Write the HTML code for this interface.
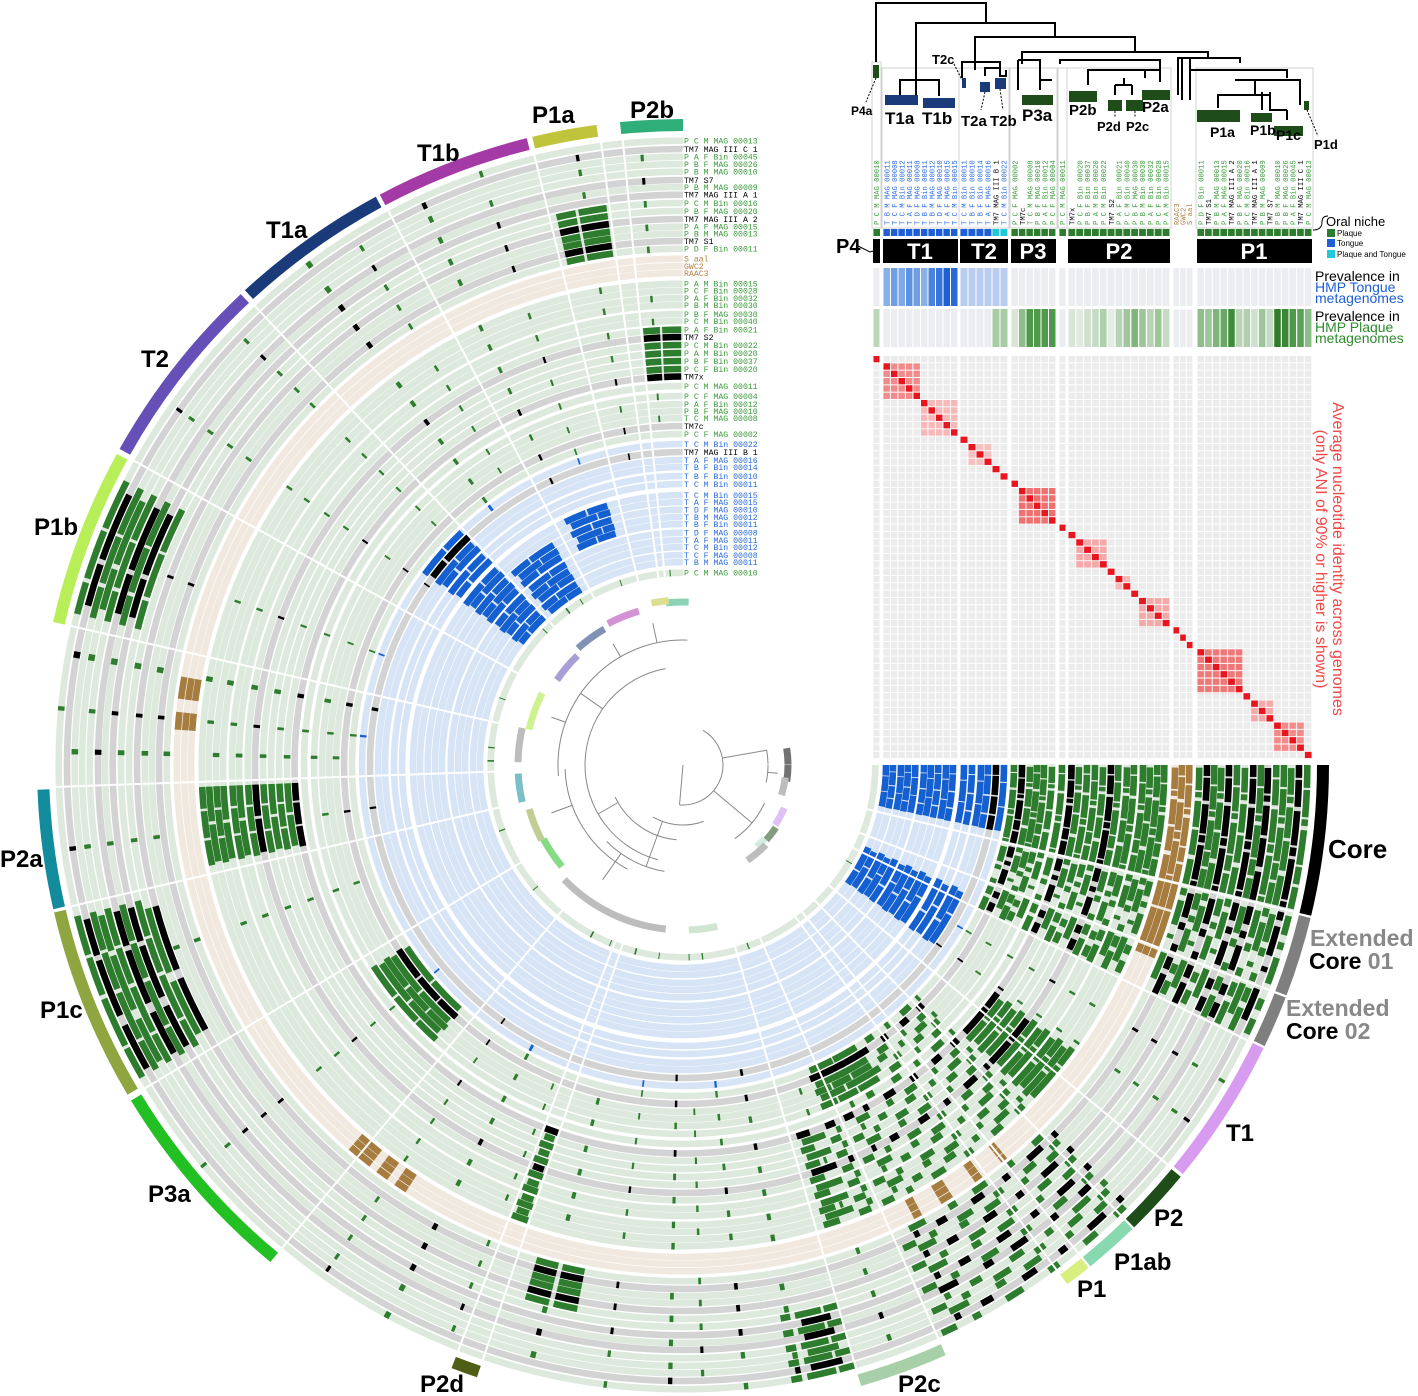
<!DOCTYPE html>
<html><head><meta charset="utf-8">
<style>
html,body{margin:0;padding:0;background:#fff;}
svg{display:block;}
.lab{font-family:"Liberation Sans",sans-serif;font-weight:bold;fill:#000;}
.mono{font-family:"Liberation Mono",monospace;}
#R circle{fill:none;stroke-width:6.6;}
.bp{stroke:#dde9dc}.bt{stroke:#d3d3d3}.bs{stroke:#f1e9df}.bb{stroke:#d6e4f6}
.bp,.bt,.bs,.bb{stroke-dasharray:270 90}
.g{stroke:#2e7d2e}.k{stroke:#000}.n{stroke:#a67c3f}.u{stroke:#1560d0}
.CA{stroke-dasharray:2.1 0.2 2.5 0.2 0.6 0.4 3.2 0.2 1.6 0.3 2 400}
.CB{stroke-dasharray:1.2 0.2 2.5 0.4 3.2 0.2 0.8 0.3 3.8 0.2 0.5 400}
.CC{stroke-dasharray:0 0.3 2.5 0.2 0.6 0.4 2.9 0.3 2.8 0.5 2.8 400}
.BC{stroke-dasharray:3 0.2 4.2 0.2 4.2 400}
.BC2{stroke-dasharray:1.8 0.2 3.5 0.3 3.2 0.3 2.6 400}
.EA{stroke-dasharray:0 14 1.8 0.7 0.7 0.8 2.5 1.5 1.1 0.9 1.5 400}
.EB{stroke-dasharray:0 13.8 0.8 0.6 2.8 1.1 0.5 1.7 3.1 400}
.EC{stroke-dasharray:0 14.2 2.7 0.6 0.8 1.7 0.8 0.7 1.4 0.6 2.3 400}
.ET{stroke-dasharray:0 13.5 3 0.3 4.2 0.3 1 400}
.MA{stroke-dasharray:0 45 1.2 2.3 1.5 3 1.1 2.9 1.8 2.7 0.8 1.7 1.5 400}
.MB{stroke-dasharray:0 44.5 0.6 1.7 2 2.7 0.8 2.7 1.5 3.3 1.2 2.2 0.6 400}
.MC{stroke-dasharray:0 46 1.3 2.9 0.8 3 1.8 2.2 1 3 2 400}
.SA{stroke-dasharray:0 30.2 .3 53.5 .4 12.6 .3 20.7 .5 21.5 .3 44.7 .4 14.6 .3 32.7 .5 17.5 .3 400}
.SB{stroke-dasharray:0 35 .3 43.7 .5 11.5 .4 33.6 .3 46.7 .4 17.6 .6 24.4 .3 29.7 .4 14.6 .3 400}
.SC{stroke-dasharray:0 70 .4 17.6 .3 15.7 .5 7.5 .3 47.7 .4 20.6 .5 42.5 .3 13.7 .3 27.7 .3 400}
.PO{stroke-dasharray:0 74 1.5 .3 2.7 .5 1 70 3 .3 4.7 .4 3.6 .3 3.7 28 3 .4 4.6 .3 4.7 400}
.PO2{stroke-dasharray:0 75 3 72.5 4.5 1 5.5 .5 3.5 29.5 4 .5 6.5 400}
.PI{stroke-dasharray:0 101 2.5 .5 2.5 44.5 6 1 7 400}
.PI2{stroke-dasharray:0 101 2.5 .5 2.5 400}
.PA{stroke-dasharray:0 257 2 .3 2.9 400}
.TB{stroke-dasharray:0 50.5 .8 2.7 1 3 1.5 2.5 1 60 1.5 1 1.5 1 3 53 2 1.5 2.5 400}
.QA{stroke-dasharray:0 36 2.5 .3 4.7 23.5 1.5 2.5 2 35.8 2 57.2 3 .3 3.2 .3 2.6 400}
.QB{stroke-dasharray:0 36.5 3.5 .4 3.6 22.5 .7 1.8 3.5 36.5 1.5 57.8 4.5 .4 4.2 400}
.QB2{stroke-dasharray:0 264.8 2.2 .3 2.5 400}
.RA{stroke-dasharray:0 58 3.5 .3 3.2 .3 2.7 64 4 .3 4.7 .4 5.6 400}
.RB{stroke-dasharray:0 58.5 4.5 .4 4.1 65 6.5 .4 7.2 400}
.U1{stroke-dasharray:0 24.5 4.5 .4 6.1 400}
.U1b{stroke-dasharray:0 24 7 .5 4.3 400}
.U2{stroke-dasharray:0 216.5 5.5 .4 4.1 400}
.U2b{stroke-dasharray:0 217 3.5 .5 5.8 400}
.U3{stroke-dasharray:0 228.3 4.7 .4 6.2 400}
.U3b{stroke-dasharray:0 229 6 .3 4.5 400}
.U4{stroke-dasharray:0 244.2 4.8 .4 4.4 400}
.U4b{stroke-dasharray:0 245 6 .3 2.7 400}
#SEP line{stroke:#fff;stroke-width:2}
#OB circle{fill:none;stroke-width:12}
#TR circle,#TR line{fill:none}
</style></head>
<body>
<svg xmlns="http://www.w3.org/2000/svg" width="1418" height="1396" viewBox="0 0 1418 1396">
<defs>
<pattern id="gP4" patternUnits="userSpaceOnUse" x="873" y="356" width="7" height="7.33"><rect x="0.4" width="6" height="6.33" fill="#ebebeb"/></pattern>
<pattern id="gT1" patternUnits="userSpaceOnUse" x="883" y="356" width="7.5" height="7.33"><rect x="0.4" width="6.5" height="6.33" fill="#ebebeb"/></pattern>
<pattern id="gT2" patternUnits="userSpaceOnUse" x="960" y="356" width="8" height="7.33"><rect x="0.4" width="7" height="6.33" fill="#ebebeb"/></pattern>
<pattern id="gP3" patternUnits="userSpaceOnUse" x="1011" y="356" width="7.5" height="7.33"><rect x="0.4" width="6.5" height="6.33" fill="#ebebeb"/></pattern>
<pattern id="gS" patternUnits="userSpaceOnUse" x="1059" y="356" width="7" height="7.33"><rect x="0.4" width="6" height="6.33" fill="#ebebeb"/></pattern>
<pattern id="gP2" patternUnits="userSpaceOnUse" x="1068" y="356" width="7.846" height="7.33"><rect x="0.4" width="6.85" height="6.33" fill="#ebebeb"/></pattern>
<pattern id="gN" patternUnits="userSpaceOnUse" x="1173" y="356" width="6.667" height="7.33"><rect x="0.4" width="5.67" height="6.33" fill="#ebebeb"/></pattern>
<pattern id="gP1" patternUnits="userSpaceOnUse" x="1197" y="356" width="7.667" height="7.33"><rect x="0.4" width="6.67" height="6.33" fill="#ebebeb"/></pattern>
<pattern id="tP4" patternUnits="userSpaceOnUse" x="873" y="268" width="7" height="41"><rect x="0.4" width="6" height="38" fill="#ebedf0"/></pattern>
<pattern id="tT1" patternUnits="userSpaceOnUse" x="883" y="268" width="7.5" height="41"><rect x="0.4" width="6.5" height="38" fill="#ebedf0"/></pattern>
<pattern id="tT2" patternUnits="userSpaceOnUse" x="960" y="268" width="8" height="41"><rect x="0.4" width="7" height="38" fill="#ebedf0"/></pattern>
<pattern id="tP3" patternUnits="userSpaceOnUse" x="1011" y="268" width="7.5" height="41"><rect x="0.4" width="6.5" height="38" fill="#ebedf0"/></pattern>
<pattern id="tS" patternUnits="userSpaceOnUse" x="1059" y="268" width="7" height="41"><rect x="0.4" width="6" height="38" fill="#ebedf0"/></pattern>
<pattern id="tP2" patternUnits="userSpaceOnUse" x="1068" y="268" width="7.846" height="41"><rect x="0.4" width="6.85" height="38" fill="#ebedf0"/></pattern>
<pattern id="tN" patternUnits="userSpaceOnUse" x="1173" y="268" width="6.667" height="41"><rect x="0.4" width="5.67" height="38" fill="#ebedf0"/></pattern>
<pattern id="tP1" patternUnits="userSpaceOnUse" x="1197" y="268" width="7.667" height="41"><rect x="0.4" width="6.67" height="38" fill="#ebedf0"/></pattern>
<pattern id="pT1a" patternUnits="userSpaceOnUse" x="883" y="356" width="7.5" height="7.33"><rect x="0.4" width="6.5" height="6.33" fill="#f28a8a"/></pattern>
<pattern id="pT1b" patternUnits="userSpaceOnUse" x="883" y="356" width="7.5" height="7.33"><rect x="0.4" width="6.5" height="6.33" fill="#f7b8b8"/></pattern>
<pattern id="pT2" patternUnits="userSpaceOnUse" x="960" y="356" width="8" height="7.33"><rect x="0.4" width="7" height="6.33" fill="#f7c0c0"/></pattern>
<pattern id="pP3" patternUnits="userSpaceOnUse" x="1011" y="356" width="7.5" height="7.33"><rect x="0.4" width="6.5" height="6.33" fill="#ee7070"/></pattern>
<pattern id="pP2a" patternUnits="userSpaceOnUse" x="1068" y="356" width="7.846" height="7.33"><rect x="0.4" width="6.85" height="6.33" fill="#f5a8a8"/></pattern>
<pattern id="pP2b" patternUnits="userSpaceOnUse" x="1068" y="356" width="7.846" height="7.33"><rect x="0.4" width="6.85" height="6.33" fill="#f7b8b8"/></pattern>
<pattern id="pP1a" patternUnits="userSpaceOnUse" x="1197" y="356" width="7.667" height="7.33"><rect x="0.4" width="6.67" height="6.33" fill="#ee7878"/></pattern>
<pattern id="pP1b" patternUnits="userSpaceOnUse" x="1197" y="356" width="7.667" height="7.33"><rect x="0.4" width="6.67" height="6.33" fill="#f5a8a8"/></pattern>
<pattern id="pP1c" patternUnits="userSpaceOnUse" x="1197" y="356" width="7.667" height="7.33"><rect x="0.4" width="6.67" height="6.33" fill="#f28a8a"/></pattern>
</defs>
<rect width="1418" height="1396" fill="#fff"/>

<g id="R" transform="translate(683,765)">
<circle r="624.3" class="bp" pathLength="360"/><circle r="624.3" class="g CA" pathLength="360"/><circle r="624.3" class="g EA" pathLength="360"/><circle r="624.3" class="g MA" pathLength="360"/><circle r="624.3" class="g PO" pathLength="360"/><circle r="624.3" class="g SA" pathLength="360"/>
<circle r="616" class="bt" pathLength="360"/><circle r="616" class="k CB" pathLength="360"/><circle r="616" class="k EB" pathLength="360"/><circle r="616" class="k MB" pathLength="360"/><circle r="616" class="k PO2" pathLength="360"/><circle r="616" class="k SB" pathLength="360"/>
<circle r="608.3" class="bp" pathLength="360"/><circle r="608.3" class="g CC" pathLength="360"/><circle r="608.3" class="g EC" pathLength="360"/><circle r="608.3" class="g MC" pathLength="360"/><circle r="608.3" class="g PO" pathLength="360"/><circle r="608.3" class="g SC" pathLength="360"/>
<circle r="601" class="bp" pathLength="360"/><circle r="601" class="g CA" pathLength="360"/><circle r="601" class="g EB" pathLength="360"/><circle r="601" class="g MA" pathLength="360"/><circle r="601" class="g PO2" pathLength="360"/><circle r="601" class="g SB" pathLength="360"/>
<circle r="593.3" class="bp" pathLength="360"/><circle r="593.3" class="g CB" pathLength="360"/><circle r="593.3" class="g EC" pathLength="360"/><circle r="593.3" class="g MB" pathLength="360"/><circle r="593.3" class="g PO" pathLength="360"/><circle r="593.3" class="g SA" pathLength="360"/>
<circle r="585" class="bt" pathLength="360"/><circle r="585" class="k CC" pathLength="360"/><circle r="585" class="k EA" pathLength="360"/><circle r="585" class="k MC" pathLength="360"/><circle r="585" class="k PO2" pathLength="360"/><circle r="585" class="k SC" pathLength="360"/>
<circle r="578" class="bp" pathLength="360"/><circle r="578" class="g CA" pathLength="360"/><circle r="578" class="g EC" pathLength="360"/><circle r="578" class="g MA" pathLength="360"/><circle r="578" class="g PO" pathLength="360"/><circle r="578" class="g SB" pathLength="360"/>
<circle r="570.3" class="bt" pathLength="360"/><circle r="570.3" class="k CB" pathLength="360"/><circle r="570.3" class="k EA" pathLength="360"/><circle r="570.3" class="k MB" pathLength="360"/><circle r="570.3" class="k PO2" pathLength="360"/><circle r="570.3" class="k SA" pathLength="360"/>
<circle r="562" class="bp" pathLength="360"/><circle r="562" class="g CC" pathLength="360"/><circle r="562" class="g EB" pathLength="360"/><circle r="562" class="g MC" pathLength="360"/><circle r="562" class="g PO" pathLength="360"/><circle r="562" class="g PA" pathLength="360"/><circle r="562" class="g SC" pathLength="360"/>
<circle r="554" class="bp" pathLength="360"/><circle r="554" class="g CA" pathLength="360"/><circle r="554" class="g EA" pathLength="360"/><circle r="554" class="g MA" pathLength="360"/><circle r="554" class="g PI" pathLength="360"/><circle r="554" class="g PA" pathLength="360"/><circle r="554" class="g SB" pathLength="360"/>
<circle r="546" class="bt" pathLength="360"/><circle r="546" class="k CB" pathLength="360"/><circle r="546" class="k EC" pathLength="360"/><circle r="546" class="k MB" pathLength="360"/><circle r="546" class="k PI" pathLength="360"/><circle r="546" class="k PA" pathLength="360"/><circle r="546" class="k SA" pathLength="360"/>
<circle r="538.3" class="bp" pathLength="360"/><circle r="538.3" class="g CC" pathLength="360"/><circle r="538.3" class="g EB" pathLength="360"/><circle r="538.3" class="g MC" pathLength="360"/><circle r="538.3" class="g PI2" pathLength="360"/><circle r="538.3" class="g PA" pathLength="360"/><circle r="538.3" class="g SC" pathLength="360"/>
<circle r="531.3" class="bp" pathLength="360"/><circle r="531.3" class="g CA" pathLength="360"/><circle r="531.3" class="g EA" pathLength="360"/><circle r="531.3" class="g MA" pathLength="360"/><circle r="531.3" class="g PI2" pathLength="360"/><circle r="531.3" class="g PA" pathLength="360"/><circle r="531.3" class="g SB" pathLength="360"/>
<circle r="524" class="bt" pathLength="360"/><circle r="524" class="k CB" pathLength="360"/><circle r="524" class="k EC" pathLength="360"/><circle r="524" class="k MB" pathLength="360"/><circle r="524" class="k PI2" pathLength="360"/><circle r="524" class="k PA" pathLength="360"/><circle r="524" class="k SA" pathLength="360"/>
<circle r="516.3" class="bp" pathLength="360"/><circle r="516.3" class="g CC" pathLength="360"/><circle r="516.3" class="g EB" pathLength="360"/><circle r="516.3" class="g MC" pathLength="360"/><circle r="516.3" class="g PI2" pathLength="360"/><circle r="516.3" class="g PA" pathLength="360"/><circle r="516.3" class="g SC" pathLength="360"/>
<circle r="506.3" class="bs" pathLength="360"/><circle r="506.3" class="n CA" pathLength="360"/><circle r="506.3" class="n ET" pathLength="360"/><circle r="506.3" class="n TB" pathLength="360"/>
<circle r="499" class="bs" pathLength="360"/><circle r="499" class="n CB" pathLength="360"/><circle r="499" class="n ET" pathLength="360"/><circle r="499" class="n TB" pathLength="360"/>
<circle r="492" class="bs" pathLength="360"/><circle r="492" class="n CC" pathLength="360"/><circle r="492" class="n ET" pathLength="360"/><circle r="492" class="n TB" pathLength="360"/>
<circle r="481.3" class="bp" pathLength="360"/><circle r="481.3" class="g CA" pathLength="360"/><circle r="481.3" class="g EA" pathLength="360"/><circle r="481.3" class="g MA" pathLength="360"/><circle r="481.3" class="g QA" pathLength="360"/><circle r="481.3" class="g SB" pathLength="360"/>
<circle r="474.3" class="bp" pathLength="360"/><circle r="474.3" class="g CB" pathLength="360"/><circle r="474.3" class="g EB" pathLength="360"/><circle r="474.3" class="g MB" pathLength="360"/><circle r="474.3" class="g QB" pathLength="360"/><circle r="474.3" class="g SA" pathLength="360"/>
<circle r="467" class="bp" pathLength="360"/><circle r="467" class="g CC" pathLength="360"/><circle r="467" class="g EC" pathLength="360"/><circle r="467" class="g MC" pathLength="360"/><circle r="467" class="g QA" pathLength="360"/><circle r="467" class="g SC" pathLength="360"/>
<circle r="460" class="bp" pathLength="360"/><circle r="460" class="g CA" pathLength="360"/><circle r="460" class="g EB" pathLength="360"/><circle r="460" class="g MA" pathLength="360"/><circle r="460" class="g QB" pathLength="360"/><circle r="460" class="g SB" pathLength="360"/>
<circle r="451" class="bp" pathLength="360"/><circle r="451" class="g CB" pathLength="360"/><circle r="451" class="g EC" pathLength="360"/><circle r="451" class="g MB" pathLength="360"/><circle r="451" class="g QA" pathLength="360"/><circle r="451" class="g SA" pathLength="360"/>
<circle r="444" class="bp" pathLength="360"/><circle r="444" class="g CC" pathLength="360"/><circle r="444" class="g EA" pathLength="360"/><circle r="444" class="g MC" pathLength="360"/><circle r="444" class="g QB" pathLength="360"/><circle r="444" class="g SC" pathLength="360"/>
<circle r="435.3" class="bp" pathLength="360"/><circle r="435.3" class="g CA" pathLength="360"/><circle r="435.3" class="g EC" pathLength="360"/><circle r="435.3" class="g MA" pathLength="360"/><circle r="435.3" class="g QA" pathLength="360"/><circle r="435.3" class="g QB2" pathLength="360"/><circle r="435.3" class="g SB" pathLength="360"/>
<circle r="428" class="bt" pathLength="360"/><circle r="428" class="k CB" pathLength="360"/><circle r="428" class="k EA" pathLength="360"/><circle r="428" class="k MB" pathLength="360"/><circle r="428" class="k QB" pathLength="360"/><circle r="428" class="k QB2" pathLength="360"/><circle r="428" class="k SA" pathLength="360"/>
<circle r="420" class="bp" pathLength="360"/><circle r="420" class="g CC" pathLength="360"/><circle r="420" class="g EB" pathLength="360"/><circle r="420" class="g MC" pathLength="360"/><circle r="420" class="g QA" pathLength="360"/><circle r="420" class="g QB2" pathLength="360"/><circle r="420" class="g SC" pathLength="360"/>
<circle r="412" class="bp" pathLength="360"/><circle r="412" class="g CA" pathLength="360"/><circle r="412" class="g EA" pathLength="360"/><circle r="412" class="g MA" pathLength="360"/><circle r="412" class="g QB" pathLength="360"/><circle r="412" class="g QB2" pathLength="360"/><circle r="412" class="g SB" pathLength="360"/>
<circle r="404" class="bp" pathLength="360"/><circle r="404" class="g CB" pathLength="360"/><circle r="404" class="g EC" pathLength="360"/><circle r="404" class="g MB" pathLength="360"/><circle r="404" class="g QA" pathLength="360"/><circle r="404" class="g QB2" pathLength="360"/><circle r="404" class="g SA" pathLength="360"/>
<circle r="396" class="bp" pathLength="360"/><circle r="396" class="g CC" pathLength="360"/><circle r="396" class="g EB" pathLength="360"/><circle r="396" class="g MC" pathLength="360"/><circle r="396" class="g QB" pathLength="360"/><circle r="396" class="g QB2" pathLength="360"/><circle r="396" class="g SC" pathLength="360"/>
<circle r="388.5" class="bt" pathLength="360"/><circle r="388.5" class="k CA" pathLength="360"/><circle r="388.5" class="k EA" pathLength="360"/><circle r="388.5" class="k MA" pathLength="360"/><circle r="388.5" class="k QA" pathLength="360"/><circle r="388.5" class="k QB2" pathLength="360"/><circle r="388.5" class="k SB" pathLength="360"/>
<circle r="379" class="bp" pathLength="360"/><circle r="379" class="g CB" pathLength="360"/><circle r="379" class="g EC" pathLength="360"/><circle r="379" class="g MB" pathLength="360"/><circle r="379" class="g SA" pathLength="360"/>
<circle r="369" class="bp" pathLength="360"/><circle r="369" class="g CC" pathLength="360"/><circle r="369" class="g EB" pathLength="360"/><circle r="369" class="g MC" pathLength="360"/><circle r="369" class="g RA" pathLength="360"/><circle r="369" class="g SC" pathLength="360"/>
<circle r="361" class="bp" pathLength="360"/><circle r="361" class="g CA" pathLength="360"/><circle r="361" class="g EA" pathLength="360"/><circle r="361" class="g MA" pathLength="360"/><circle r="361" class="g RB" pathLength="360"/><circle r="361" class="g SB" pathLength="360"/>
<circle r="354" class="bp" pathLength="360"/><circle r="354" class="g CB" pathLength="360"/><circle r="354" class="g EC" pathLength="360"/><circle r="354" class="g MB" pathLength="360"/><circle r="354" class="g RA" pathLength="360"/><circle r="354" class="g SA" pathLength="360"/>
<circle r="347" class="bp" pathLength="360"/><circle r="347" class="g CC" pathLength="360"/><circle r="347" class="g EB" pathLength="360"/><circle r="347" class="g MC" pathLength="360"/><circle r="347" class="g RB" pathLength="360"/><circle r="347" class="g SC" pathLength="360"/>
<circle r="339" class="bt" pathLength="360"/><circle r="339" class="k CA" pathLength="360"/><circle r="339" class="k EA" pathLength="360"/><circle r="339" class="k MA" pathLength="360"/><circle r="339" class="k RA" pathLength="360"/><circle r="339" class="k SB" pathLength="360"/>
<circle r="331" class="bp" pathLength="360"/><circle r="331" class="g CB" pathLength="360"/><circle r="331" class="g EC" pathLength="360"/><circle r="331" class="g MB" pathLength="360"/><circle r="331" class="g RB" pathLength="360"/><circle r="331" class="g SA" pathLength="360"/>
<circle r="321" class="bb" pathLength="360"/><circle r="321" class="u BC" pathLength="360"/><circle r="321" class="u U2" pathLength="360"/><circle r="321" class="u SA" pathLength="360"/>
<circle r="313" class="bt" pathLength="360"/><circle r="313" class="k BC2" pathLength="360"/><circle r="313" class="k U2b" pathLength="360"/><circle r="313" class="k SB" pathLength="360"/>
<circle r="305" class="bb" pathLength="360"/><circle r="305" class="u BC2" pathLength="360"/><circle r="305" class="u U1" pathLength="360"/><circle r="305" class="u U2" pathLength="360"/>
<circle r="298" class="bb" pathLength="360"/><circle r="298" class="u BC" pathLength="360"/><circle r="298" class="u U1b" pathLength="360"/><circle r="298" class="u U2b" pathLength="360"/>
<circle r="289" class="bb" pathLength="360"/><circle r="289" class="u BC2" pathLength="360"/><circle r="289" class="u U1" pathLength="360"/><circle r="289" class="u U2" pathLength="360"/>
<circle r="281" class="bb" pathLength="360"/><circle r="281" class="u BC" pathLength="360"/><circle r="281" class="u U1b" pathLength="360"/><circle r="281" class="u U2b" pathLength="360"/>
<circle r="270" class="bb" pathLength="360"/><circle r="270" class="u BC2" pathLength="360"/><circle r="270" class="u U1" pathLength="360"/><circle r="270" class="u U2" pathLength="360"/><circle r="270" class="u U4" pathLength="360"/>
<circle r="263" class="bb" pathLength="360"/><circle r="263" class="u BC" pathLength="360"/><circle r="263" class="u U1b" pathLength="360"/><circle r="263" class="u U2b" pathLength="360"/><circle r="263" class="u U4b" pathLength="360"/>
<circle r="255.3" class="bb" pathLength="360"/><circle r="255.3" class="u BC2" pathLength="360"/><circle r="255.3" class="u U1" pathLength="360"/><circle r="255.3" class="u U2" pathLength="360"/><circle r="255.3" class="u U3" pathLength="360"/><circle r="255.3" class="u U4" pathLength="360"/>
<circle r="248" class="bb" pathLength="360"/><circle r="248" class="u BC" pathLength="360"/><circle r="248" class="u U1b" pathLength="360"/><circle r="248" class="u U2b" pathLength="360"/><circle r="248" class="u U3b" pathLength="360"/><circle r="248" class="u U4b" pathLength="360"/>
<circle r="241" class="bb" pathLength="360"/><circle r="241" class="u BC2" pathLength="360"/><circle r="241" class="u U1" pathLength="360"/><circle r="241" class="u U2" pathLength="360"/><circle r="241" class="u U3" pathLength="360"/><circle r="241" class="u U4" pathLength="360"/>
<circle r="232.3" class="bb" pathLength="360"/><circle r="232.3" class="u BC" pathLength="360"/><circle r="232.3" class="u U1b" pathLength="360"/><circle r="232.3" class="u U2b" pathLength="360"/><circle r="232.3" class="u U3b" pathLength="360"/>
<circle r="225" class="bb" pathLength="360"/><circle r="225" class="u BC2" pathLength="360"/><circle r="225" class="u U1" pathLength="360"/><circle r="225" class="u U2" pathLength="360"/><circle r="225" class="u U3" pathLength="360"/>
<circle r="218" class="bb" pathLength="360"/><circle r="218" class="u BC" pathLength="360"/><circle r="218" class="u U1b" pathLength="360"/><circle r="218" class="u U2b" pathLength="360"/><circle r="218" class="u U3b" pathLength="360"/>
<circle r="210" class="bb" pathLength="360"/><circle r="210" class="u BC2" pathLength="360"/><circle r="210" class="u U1" pathLength="360"/><circle r="210" class="u U2" pathLength="360"/><circle r="210" class="u U3" pathLength="360"/>
<circle r="203" class="bb" pathLength="360"/><circle r="203" class="u BC" pathLength="360"/><circle r="203" class="u U1b" pathLength="360"/><circle r="203" class="u U2b" pathLength="360"/><circle r="203" class="u U3b" pathLength="360"/>
<circle r="192.3" class="bp" pathLength="360"/><circle r="192.3" class="g SA" pathLength="360"/><circle r="192.3" class="g SC" pathLength="360"/>
</g>

<g id="SEP" transform="translate(683,765)">
<line x1="186" x2="630" transform="rotate(13.5)"/><line x1="186" x2="630" transform="rotate(21)"/><line x1="186" x2="630" transform="rotate(26)"/>
<line x1="186" x2="630" transform="rotate(39.5)"/><line x1="186" x2="630" transform="rotate(45.8)"/><line x1="186" x2="630" transform="rotate(51)"/>
<line x1="186" x2="630" transform="rotate(53.5)"/><line x1="186" x2="630" transform="rotate(66)"/><line x1="186" x2="630" transform="rotate(74)"/>
<line x1="186" x2="630" transform="rotate(108.6)"/><line x1="186" x2="630" transform="rotate(111)"/><line x1="186" x2="630" transform="rotate(129.7)"/>
<line x1="186" x2="630" transform="rotate(149)"/><line x1="186" x2="630" transform="rotate(167)"/><line x1="186" x2="630" transform="rotate(178)"/>
<line x1="186" x2="630" transform="rotate(192.8)"/><line x1="186" x2="630" transform="rotate(209)"/><line x1="186" x2="630" transform="rotate(227)"/>
<line x1="186" x2="630" transform="rotate(242)"/><line x1="186" x2="630" transform="rotate(256.3)"/><line x1="186" x2="630" transform="rotate(262.5)"/>
<line x1="186" x2="630" transform="rotate(264.5)"/>
</g>

<g id="OB" transform="translate(683,765)">
<circle r="640" pathLength="360" stroke="#000" style="stroke-dasharray:13.5 400"/>
<circle r="640" pathLength="360" stroke="#7f7f7f" style="stroke-dasharray:0 13.7 7.2 400"/>
<circle r="640" pathLength="360" stroke="#7f7f7f" style="stroke-dasharray:0 21.1 4.7 400"/>
<circle r="640" pathLength="360" stroke="#d79cf0" style="stroke-dasharray:0 26 13.3 400"/>
<circle r="640" pathLength="360" stroke="#1e4d1a" style="stroke-dasharray:0 39.6 6.1 400"/>
<circle r="640" pathLength="360" stroke="#88d8b0" style="stroke-dasharray:0 45.9 5 400"/>
<circle r="640" pathLength="360" stroke="#d8ef80" style="stroke-dasharray:0 51.1 2.4 400"/>
<circle r="640" pathLength="360" stroke="#a8d0a8" style="stroke-dasharray:0 66 8 400"/>
<circle r="640" pathLength="360" stroke="#4f5e16" style="stroke-dasharray:0 108.6 2.4 400"/>
<circle r="640" pathLength="360" stroke="#22c022" style="stroke-dasharray:0 129.7 19 400"/>
<circle r="640" pathLength="360" stroke="#8fa640" style="stroke-dasharray:0 149.3 17.5 400"/>
<circle r="640" pathLength="360" stroke="#128c9c" style="stroke-dasharray:0 167.1 10.7 400"/>
<circle r="640" pathLength="360" stroke="#b8ee58" style="stroke-dasharray:0 192.8 16 400"/>
<circle r="640" pathLength="360" stroke="#6650b8" style="stroke-dasharray:0 209.3 17.5 400"/>
<circle r="640" pathLength="360" stroke="#1a3a7a" style="stroke-dasharray:0 227.3 14.3 400"/>
<circle r="640" pathLength="360" stroke="#a43aa6" style="stroke-dasharray:0 242 14 400"/>
<circle r="640" pathLength="360" stroke="#c0c43a" style="stroke-dasharray:0 256.5 5.8 400"/>
<circle r="640" pathLength="360" stroke="#2fae7a" style="stroke-dasharray:0 264.4 5.6 400"/>
</g>

<g id="TR" transform="translate(683,765)" stroke="#888" stroke-width="1">
<circle r="125" pathLength="360" style="stroke-dasharray:0 175 97 400"/>
<circle r="118" pathLength="360" style="stroke-dasharray:0 118 60 400"/>
<circle r="108" pathLength="360" style="stroke-dasharray:0 100 35 400"/>
<circle r="98" pathLength="360" style="stroke-dasharray:0 105 155 400"/>
<circle r="75" pathLength="360" style="stroke-dasharray:0 95 60 400"/>
<circle r="60" pathLength="360" style="stroke-dasharray:0 70 50 400"/>
<circle r="40" pathLength="360" style="stroke-dasharray:95 205 60 400"/>
<circle r="85" pathLength="360" style="stroke-dasharray:12 338 10 400"/>
<circle r="90" pathLength="360" style="stroke-dasharray:0 25 30 400"/>
<line x1="60" x2="108" transform="rotate(110)"/><line x1="98" x2="125" transform="rotate(215)"/>
<line x1="75" x2="98" transform="rotate(150)"/><line x1="118" x2="140" transform="rotate(160)"/>
<line x1="125" x2="140" transform="rotate(200)"/><line x1="125" x2="140" transform="rotate(240)"/>
<line x1="125" x2="145" transform="rotate(258)"/><line x1="108" x2="140" transform="rotate(125)"/>
<line x1="0" x2="40" transform="rotate(95)"/><line x1="40" x2="85" transform="rotate(-10)"/>
<line x1="85" x2="95" transform="rotate(5)"/><line x1="40" x2="90" transform="rotate(40)"/>
<g stroke-width="7" opacity="0.55">
<circle r="163" pathLength="360" stroke="#2fae7a" style="stroke-dasharray:0 264 8 400"/>
<circle r="165" pathLength="360" stroke="#c0c43a" style="stroke-dasharray:0 259 6 400"/>
<circle r="160" pathLength="360" stroke="#b03ab0" style="stroke-dasharray:0 242 12 400"/>
<circle r="157" pathLength="360" stroke="#1a3a7a" style="stroke-dasharray:0 228 12 400"/>
<circle r="152" pathLength="360" stroke="#6650b8" style="stroke-dasharray:0 214 12 400"/>
<circle r="158" pathLength="360" stroke="#a8e838" style="stroke-dasharray:0 193 14 400"/>
<circle r="165" pathLength="360" stroke="#888" style="stroke-dasharray:0 181 12 400"/>
<circle r="165" pathLength="360" stroke="#128c9c" style="stroke-dasharray:0 167 10 400"/>
<circle r="160" pathLength="360" stroke="#8fa640" style="stroke-dasharray:0 152 12 400"/>
<circle r="158" pathLength="360" stroke="#22c022" style="stroke-dasharray:0 140 12 400"/>
<circle r="165" pathLength="360" stroke="#888" style="stroke-dasharray:0 96 40 400"/>
<circle r="165" pathLength="360" stroke="#a8d0a8" style="stroke-dasharray:0 78 10 400"/>
<circle r="105" pathLength="360" stroke="#000" style="stroke-dasharray:9 342 9 400"/>
<circle r="103" pathLength="360" stroke="#888" style="stroke-dasharray:0 7 10 400"/>
<circle r="110" pathLength="360" stroke="#c890f0" style="stroke-dasharray:0 23 10 400"/>
<circle r="112" pathLength="360" stroke="#1e4d1a" style="stroke-dasharray:0 34 8 400"/>
<circle r="110" pathLength="360" stroke="#a8e0c8" style="stroke-dasharray:0 42 6 400"/>
<circle r="115" pathLength="360" stroke="#888" style="stroke-dasharray:0 44 12 400"/>
</g>
</g>

<g class="mono" font-size="8.2">
<g fill="#3a9a3a"><text x="684" y="143.7">P C M MAG 00013</text><text x="684" y="159.7">P A F Bin 00045</text><text x="684" y="167">P B F MAG 00026</text><text x="684" y="174.7">P B M MAG 00010</text><text x="684" y="190">P B M MAG 00009</text><text x="684" y="206">P C M Bin 00016</text><text x="684" y="214">P B F MAG 00020</text><text x="684" y="229.7">P A F MAG 00015</text><text x="684" y="236.7">P B M MAG 00013</text><text x="684" y="251.7">P D F Bin 00011</text>
<text x="684" y="286.7">P A M Bin 00015</text><text x="684" y="293.7">P C F Bin 00028</text><text x="684" y="301">P A F Bin 00032</text><text x="684" y="308">P B M Bin 00030</text><text x="684" y="317">P B F MAG 00030</text><text x="684" y="324">P C M Bin 00040</text><text x="684" y="332.7">P A F Bin 00021</text><text x="684" y="348">P C M Bin 00022</text><text x="684" y="356">P A M Bin 00020</text><text x="684" y="364">P B F Bin 00037</text><text x="684" y="372">P C F Bin 00020</text>
<text x="684" y="389">P C M MAG 00011</text><text x="684" y="399">P C F MAG 00004</text><text x="684" y="407">P A F Bin 00012</text><text x="684" y="414">P B F MAG 00010</text><text x="684" y="421">T C M MAG 00008</text><text x="684" y="437">P C F MAG 00002</text><text x="684" y="575.7">P C M MAG 00010</text></g>
<g fill="#000"><text x="684" y="152">TM7 MAG III C 1</text><text x="684" y="183">TM7 S7</text><text x="684" y="197.7">TM7 MAG III A 1</text><text x="684" y="222">TM7 MAG III A 2</text><text x="684" y="244">TM7 S1</text><text x="684" y="340">TM7 S2</text><text x="684" y="379.5">TM7x</text><text x="684" y="429">TM7c</text><text x="684" y="455">TM7 MAG III B 1</text></g>
<g fill="#b08040"><text x="684" y="261.7">S aal</text><text x="684" y="269">GWC2</text><text x="684" y="276">RAAC3</text></g>
<g fill="#2a6be0"><text x="684" y="447">T C M Bin 00022</text><text x="684" y="463">T A F MAG 00016</text><text x="684" y="470">T B F Bin 00014</text><text x="684" y="479">T B F Bin 00010</text><text x="684" y="487">T C M Bin 00011</text><text x="684" y="498">T C M Bin 00015</text><text x="684" y="505">T A F MAG 00015</text><text x="684" y="512.7">T D F MAG 00010</text><text x="684" y="520">T B M MAG 00012</text><text x="684" y="527">T B F Bin 00011</text><text x="684" y="535.7">T D F MAG 00008</text><text x="684" y="543">T A F MAG 00011</text><text x="684" y="550">T C M Bin 00012</text><text x="684" y="558">T C F MAG 00008</text><text x="684" y="565">T B M MAG 00011</text></g>
</g>

<g class="lab">
<text x="1328" y="858" font-size="26">Core</text>
<text x="1310" y="946" font-size="23" style="fill:#888">Extended</text>
<text x="1309" y="969" font-size="23">Core <tspan style="fill:#888">01</tspan></text>
<text x="1286" y="1016" font-size="23" style="fill:#888">Extended</text>
<text x="1286" y="1039" font-size="23">Core <tspan style="fill:#888">02</tspan></text>
<text x="1226" y="1141" font-size="24">T1</text>
<text x="1154" y="1226" font-size="24">P2</text>
<text x="1114" y="1270" font-size="24">P1ab</text>
<text x="1077" y="1297" font-size="24">P1</text>
<text x="898" y="1392" font-size="24">P2c</text>
<text x="420" y="1392" font-size="24">P2d</text>
<text x="148" y="1202" font-size="24">P3a</text>
<text x="40" y="1018" font-size="24">P1c</text>
<text x="0" y="867" font-size="24">P2a</text>
<text x="34" y="535" font-size="24">P1b</text>
<text x="141" y="367" font-size="24">T2</text>
<text x="266" y="238" font-size="24">T1a</text>
<text x="417" y="161" font-size="24">T1b</text>
<text x="532" y="123" font-size="24">P1a</text>
<text x="630" y="118" font-size="24">P2b</text>
</g>

<g fill="none" stroke="#d0d0d0">
<rect x="872" y="62" width="9" height="166"/><rect x="882" y="68" width="77" height="160"/><rect x="959" y="68" width="50" height="160"/>
<rect x="1010" y="68" width="47" height="160"/><rect x="1058" y="68" width="9" height="160"/><rect x="1067" y="68" width="104" height="160"/><rect x="1196" y="68" width="117" height="160"/>
</g>
<g stroke="#000" stroke-width="2" fill="none">
<path d="M876 62 V3 H986 V23"/><path d="M916 95 V23 H1055 V37"/><path d="M975 70 V37 H1135 V52"/><path d="M1022 64 V52 H1208 V58"/>
<path d="M900 95 V80 H939 V96"/><path d="M1018 60 V90"/><path d="M1018 60 H1040 V80 M1040 90 V80 H1052"/>
<path d="M1060 64 V60 H1160 V70"/><path d="M1088 85 V70 H1160 V82"/><path d="M1115 95 V85 M1132 95 V85 M1115 85 H1132 M1124 85 V78 M1145 78 V70"/>
<path d="M1178 95 V58 H1240 V63"/><path d="M1190 98 V70 H1287 V78"/><path d="M1218 108 V95 H1255 V80 M1235 80 H1300 V105"/>
<path d="M1262 110 V92 M1287 120 V110 M1253 95 H1270 M1287 110 H1270 V92"/>
<path d="M962 78 V62 H1000 V70 M985 76 V68 H1000 M1000 70 V76 H1006 V70"/>
<path d="M1190 58 V100 M1182 58 V100"/>
</g>
<g>
<rect x="873" y="65" width="6" height="13" fill="#1e4d1a"/><rect x="885" y="95" width="33" height="10" fill="#1a3a7a"/><rect x="923" y="98" width="32" height="10" fill="#1a3a7a"/>
<rect x="962" y="78" width="4" height="10" fill="#1a3a7a"/><rect x="980" y="82" width="10" height="10" fill="#1a3a7a"/><rect x="995" y="78" width="11" height="11" fill="#1a3a7a"/>
<rect x="1022" y="95" width="31" height="10" fill="#1e4d1a"/><rect x="1069" y="91" width="28" height="11" fill="#1e4d1a"/><rect x="1108" y="100" width="14" height="11" fill="#1e4d1a"/>
<rect x="1126" y="100" width="17" height="11" fill="#1e4d1a"/><rect x="1142" y="90" width="28" height="10" fill="#1e4d1a"/><rect x="1197" y="110" width="43" height="12" fill="#1e4d1a"/>
<rect x="1251" y="113" width="21" height="9" fill="#1e4d1a"/><rect x="1274" y="126" width="29" height="10" fill="#1e4d1a"/><rect x="1304" y="101" width="5" height="9" fill="#1e4d1a"/>
</g>
<path d="M954 64 L962 80 M985 92 L981 110 M1000 89 L1003 110 M1115 111 V118 M1135 111 V118 M1307 110 L1318 136 M876 78 L866 102" stroke="#000" stroke-dasharray="2,1.5" fill="none"/>
<g class="lab">
<text x="885" y="124" font-size="17">T1a</text><text x="922" y="124" font-size="17">T1b</text><text x="932" y="64" font-size="13">T2c</text>
<text x="961" y="126" font-size="15">T2a</text><text x="990" y="126" font-size="15">T2b</text><text x="1022" y="121" font-size="17">P3a</text>
<text x="1069" y="115" font-size="15">P2b</text><text x="1097" y="131" font-size="13">P2d</text><text x="1126" y="131" font-size="13">P2c</text>
<text x="1142" y="112" font-size="15">P2a</text><text x="1210" y="137" font-size="14">P1a</text><text x="1250" y="135" font-size="14">P1b</text>
<text x="1276" y="140" font-size="14">P1c</text><text x="1314" y="149" font-size="13">P1d</text><text x="851" y="115" font-size="12">P4a</text>
</g>
<g class="mono" font-size="7.2">
<g fill="#3a9a3a">
<text transform="translate(879.1,225) rotate(-90)">P C M MAG 00010</text>
<text transform="translate(1017.4,225) rotate(-90)">P C F MAG 00002</text>
<text transform="translate(1032.4,225) rotate(-90)">T C M MAG 00008</text>
<text transform="translate(1039.9,225) rotate(-90)">P B F MAG 00010</text>
<text transform="translate(1047.4,225) rotate(-90)">P A F Bin 00012</text>
<text transform="translate(1054.9,225) rotate(-90)">P C F MAG 00004</text>
<text transform="translate(1065.1,225) rotate(-90)">P C M MAG 00011</text>
<text transform="translate(1082.4,225) rotate(-90)">P C F Bin 00020</text>
<text transform="translate(1090.2,225) rotate(-90)">P B F Bin 00037</text>
<text transform="translate(1098.1,225) rotate(-90)">P A M Bin 00020</text>
<text transform="translate(1105.9,225) rotate(-90)">P C M Bin 00022</text>
<text transform="translate(1121.6,225) rotate(-90)">P A F Bin 00021</text>
<text transform="translate(1129.5,225) rotate(-90)">P C M Bin 00040</text>
<text transform="translate(1137.3,225) rotate(-90)">P B F MAG 00030</text>
<text transform="translate(1145.2,225) rotate(-90)">P B M Bin 00030</text>
<text transform="translate(1153,225) rotate(-90)">P A F Bin 00032</text>
<text transform="translate(1160.9,225) rotate(-90)">P C F Bin 00028</text>
<text transform="translate(1168.7,225) rotate(-90)">P A M Bin 00015</text>
<text transform="translate(1203.4,225) rotate(-90)">P D F Bin 00011</text>
<text transform="translate(1218.8,225) rotate(-90)">P B M MAG 00013</text>
<text transform="translate(1226.4,225) rotate(-90)">P A F MAG 00015</text>
<text transform="translate(1241.8,225) rotate(-90)">P B F MAG 00020</text>
<text transform="translate(1249.4,225) rotate(-90)">P C M Bin 00016</text>
<text transform="translate(1264.8,225) rotate(-90)">P B M MAG 00009</text>
<text transform="translate(1280.1,225) rotate(-90)">P B M MAG 00010</text>
<text transform="translate(1287.8,225) rotate(-90)">P B F MAG 00026</text>
<text transform="translate(1295.4,225) rotate(-90)">P A F Bin 00045</text>
<text transform="translate(1310.8,225) rotate(-90)">P C M MAG 00013</text>
</g>
<g fill="#2a6be0">
<text transform="translate(889.4,225) rotate(-90)">T B M MAG 00011</text>
<text transform="translate(896.9,225) rotate(-90)">T C F MAG 00008</text>
<text transform="translate(904.4,225) rotate(-90)">T C M Bin 00012</text>
<text transform="translate(911.9,225) rotate(-90)">T A F MAG 00011</text>
<text transform="translate(919.4,225) rotate(-90)">T D F MAG 00008</text>
<text transform="translate(926.9,225) rotate(-90)">T B F Bin 00011</text>
<text transform="translate(934.4,225) rotate(-90)">T B M MAG 00012</text>
<text transform="translate(941.9,225) rotate(-90)">T D F MAG 00010</text>
<text transform="translate(949.4,225) rotate(-90)">T A F MAG 00015</text>
<text transform="translate(956.9,225) rotate(-90)">T C M Bin 00015</text>
<text transform="translate(966.6,225) rotate(-90)">T C M Bin 00011</text>
<text transform="translate(974.6,225) rotate(-90)">T B F Bin 00010</text>
<text transform="translate(982.6,225) rotate(-90)">T B F Bin 00014</text>
<text transform="translate(990.6,225) rotate(-90)">T A F MAG 00016</text>
<text transform="translate(1006.6,225) rotate(-90)">T C M Bin 00022</text>
</g>
<g fill="#000">
<text transform="translate(998.6,225) rotate(-90)">TM7 MAG III B 1</text>
<text transform="translate(1024.9,225) rotate(-90)">TM7c</text>
<text transform="translate(1074.5,225) rotate(-90)">TM7x</text>
<text transform="translate(1113.8,225) rotate(-90)">TM7 S2</text>
<text transform="translate(1211.1,225) rotate(-90)">TM7 S1</text>
<text transform="translate(1234.1,225) rotate(-90)">TM7 MAG III A 2</text>
<text transform="translate(1257.1,225) rotate(-90)">TM7 MAG III A 1</text>
<text transform="translate(1272.4,225) rotate(-90)">TM7 S7</text>
<text transform="translate(1303.1,225) rotate(-90)">TM7 MAG III C 1</text>
</g>
<g fill="#b08040">
<text transform="translate(1178.9,225) rotate(-90)">RAAC3</text>
<text transform="translate(1185.6,225) rotate(-90)">GWC2</text>
<text transform="translate(1192.2,225) rotate(-90)">S aal</text>
</g>
</g>
<g stroke-width="7">
<line x1="873.4" x2="880" y1="232.5" y2="232.5" stroke="#2e7d2e"/>
<line x1="883.4" x2="958" y1="232.5" y2="232.5" stroke="#1f5fd6" stroke-dasharray="6.5 1"/>
<line x1="960.4" x2="992" y1="232.5" y2="232.5" stroke="#1f5fd6" stroke-dasharray="7 1"/>
<line x1="992.4" x2="1008" y1="232.5" y2="232.5" stroke="#22c8d8" stroke-dasharray="7 1"/>
<line x1="1011.4" x2="1056" y1="232.5" y2="232.5" stroke="#2e7d2e" stroke-dasharray="6.5 1"/>
<line x1="1059.4" x2="1066" y1="232.5" y2="232.5" stroke="#2e7d2e"/>
<line x1="1068.4" x2="1170" y1="232.5" y2="232.5" stroke="#2e7d2e" stroke-dasharray="6.85 1"/>
<line x1="1197.4" x2="1312" y1="232.5" y2="232.5" stroke="#2e7d2e" stroke-dasharray="6.67 1"/>
</g>
<g fill="#000">
<rect x="873" y="239" width="7" height="24"/><rect x="883" y="239" width="75" height="24"/><rect x="960" y="239" width="48" height="24"/>
<rect x="1011" y="239" width="45" height="24"/><rect x="1068" y="239" width="102" height="24"/><rect x="1197" y="239" width="115" height="24"/>
</g>
<g class="lab" font-size="22" text-anchor="middle">
<text x="920" y="259" style="fill:#fff">T1</text><text x="984" y="259" style="fill:#fff">T2</text><text x="1033" y="259" style="fill:#fff">P3</text>
<text x="1119" y="259" style="fill:#fff">P2</text><text x="1254" y="259" style="fill:#fff">P1</text>
</g>
<text x="836" y="253" font-size="20" class="lab">P4</text>
<path d="M858 246 L870 252 L873 251" stroke="#000" fill="none"/>
<rect x="873" y="268" width="7" height="80" fill="url(#tP4)"/><rect x="883" y="268" width="75" height="80" fill="url(#tT1)"/>
<rect x="960" y="268" width="48" height="80" fill="url(#tT2)"/><rect x="1011" y="268" width="45" height="80" fill="url(#tP3)"/>
<rect x="1059" y="268" width="7" height="80" fill="url(#tS)"/><rect x="1068" y="268" width="102" height="80" fill="url(#tP2)"/>
<rect x="1173" y="268" width="20" height="80" fill="url(#tN)"/><rect x="1197" y="268" width="115" height="80" fill="url(#tP1)"/>
<g stroke-width="6.5">
<line x1="886.75" x2="886.75" y1="268" y2="306" stroke="#8ab0ea"/><line x1="894.25" x2="894.25" y1="268" y2="306" stroke="#6f9fe4"/>
<line x1="901.75" x2="901.75" y1="268" y2="306" stroke="#80a8e8"/><line x1="909.25" x2="909.25" y1="268" y2="306" stroke="#5e92e0"/>
<line x1="916.75" x2="916.75" y1="268" y2="306" stroke="#6f9fe4"/><line x1="924.25" x2="924.25" y1="268" y2="306" stroke="#8ab0ea"/>
<line x1="931.75" x2="931.75" y1="268" y2="306" stroke="#4a82dc"/><line x1="939.25" x2="939.25" y1="268" y2="306" stroke="#3a76d8"/>
<line x1="946.75" x2="946.75" y1="268" y2="306" stroke="#1e5fd6"/><line x1="954.25" x2="954.25" y1="268" y2="306" stroke="#2a68d8"/>
</g>
<g stroke-width="7" stroke="#b8cdf0">
<line x1="964" x2="964" y1="268" y2="306"/><line x1="972" x2="972" y1="268" y2="306"/><line x1="980" x2="980" y1="268" y2="306"/>
<line x1="988" x2="988" y1="268" y2="306"/><line x1="996" x2="996" y1="268" y2="306"/><line x1="1004" x2="1004" y1="268" y2="306"/>
</g>
<g stroke-width="6.5">
<line x1="876.5" x2="876.5" y1="309" y2="347" stroke="#bcd6b8" stroke-width="6"/>
<line x1="996" x2="996" y1="309" y2="347" stroke="#a8cca4" stroke-width="7"/><line x1="1004" x2="1004" y1="309" y2="347" stroke="#a8cca4" stroke-width="7"/>
<line x1="1014.75" x2="1014.75" y1="309" y2="347" stroke="#d8e6d6"/><line x1="1022.25" x2="1022.25" y1="309" y2="347" stroke="#8ebe8a"/>
<line x1="1029.75" x2="1029.75" y1="309" y2="347" stroke="#4e9a4a"/><line x1="1037.25" x2="1037.25" y1="309" y2="347" stroke="#4e9a4a"/>
<line x1="1044.75" x2="1044.75" y1="309" y2="347" stroke="#4e9a4a"/><line x1="1052.25" x2="1052.25" y1="309" y2="347" stroke="#4e9a4a"/>
<line x1="1071.9" x2="1071.9" y1="309" y2="347" stroke="#d8e6d6"/><line x1="1079.7" x2="1079.7" y1="309" y2="347" stroke="#e0eadf"/>
<line x1="1087.6" x2="1087.6" y1="309" y2="347" stroke="#cfe0cd"/><line x1="1095.4" x2="1095.4" y1="309" y2="347" stroke="#c6dbc3"/>
<line x1="1103.3" x2="1103.3" y1="309" y2="347" stroke="#b0cfad"/><line x1="1111.1" x2="1111.1" y1="309" y2="347" stroke="#e4ece3"/>
<line x1="1119" x2="1119" y1="309" y2="347" stroke="#b8d4b4"/><line x1="1126.8" x2="1126.8" y1="309" y2="347" stroke="#a0c79c"/>
<line x1="1134.7" x2="1134.7" y1="309" y2="347" stroke="#7fb47b"/><line x1="1142.5" x2="1142.5" y1="309" y2="347" stroke="#9cc598"/>
<line x1="1150.4" x2="1150.4" y1="309" y2="347" stroke="#b8d4b4"/><line x1="1158.2" x2="1158.2" y1="309" y2="347" stroke="#9cc598"/>
<line x1="1166.1" x2="1166.1" y1="309" y2="347" stroke="#c6dbc3"/>
<line x1="1200.8" x2="1200.8" y1="309" y2="347" stroke="#8ebe8a"/><line x1="1208.5" x2="1208.5" y1="309" y2="347" stroke="#9cc598"/>
<line x1="1216.2" x2="1216.2" y1="309" y2="347" stroke="#7fb47b"/><line x1="1223.8" x2="1223.8" y1="309" y2="347" stroke="#6aa866"/>
<line x1="1231.5" x2="1231.5" y1="309" y2="347" stroke="#3e8c3a"/><line x1="1239.2" x2="1239.2" y1="309" y2="347" stroke="#b8d4b4"/>
<line x1="1246.8" x2="1246.8" y1="309" y2="347" stroke="#b0cfad"/><line x1="1254.5" x2="1254.5" y1="309" y2="347" stroke="#cfe0cd"/>
<line x1="1262.2" x2="1262.2" y1="309" y2="347" stroke="#9cc598"/><line x1="1269.8" x2="1269.8" y1="309" y2="347" stroke="#c6dbc3"/>
<line x1="1277.5" x2="1277.5" y1="309" y2="347" stroke="#2f7d2b"/><line x1="1285.2" x2="1285.2" y1="309" y2="347" stroke="#3a8736"/>
<line x1="1292.8" x2="1292.8" y1="309" y2="347" stroke="#4e9a4a"/><line x1="1300.5" x2="1300.5" y1="309" y2="347" stroke="#5aa256"/>
<line x1="1308.2" x2="1308.2" y1="309" y2="347" stroke="#8ebe8a"/>
</g>
<path d="M1313 230 Q1322 230 1322 222 Q1322 216 1328 216" stroke="#000" fill="none"/>
<g font-family="Liberation Sans, sans-serif">
<text x="1326" y="226" font-size="13">Oral niche</text>
<rect x="1327" y="229" width="8" height="8" fill="#2e7d2e"/><text x="1337" y="236" font-size="8">Plaque</text>
<rect x="1327" y="239" width="8" height="8" fill="#1f5fd6"/><text x="1337" y="246" font-size="8">Tongue</text>
<rect x="1327" y="250" width="8" height="8" fill="#22c8d8"/><text x="1337" y="257" font-size="8">Plaque and Tongue</text>
<text x="1315" y="281" font-size="14">Prevalence in</text>
<text x="1315" y="292" font-size="14" fill="#1f5fd6">HMP Tongue</text>
<text x="1315" y="303" font-size="14" fill="#1f5fd6">metagenomes</text>
<text x="1315" y="321" font-size="14">Prevalence in</text>
<text x="1315" y="332" font-size="14" fill="#2e8b2e">HMP Plaque</text>
<text x="1315" y="343" font-size="14" fill="#2e8b2e">metagenomes</text>
<text transform="translate(1333,559) rotate(90)" text-anchor="middle" font-size="16" fill="#f04848">Average nucleotide identity across genomes</text>
<text transform="translate(1316,559) rotate(90)" text-anchor="middle" font-size="16" fill="#f04848">(only ANI of 90% or higher is shown)</text>
</g>
<rect x="873" y="356" width="7" height="403" fill="url(#gP4)"/><rect x="883" y="356" width="75" height="403" fill="url(#gT1)"/>
<rect x="960" y="356" width="48" height="403" fill="url(#gT2)"/><rect x="1011" y="356" width="45" height="403" fill="url(#gP3)"/>
<rect x="1059" y="356" width="7" height="403" fill="url(#gS)"/><rect x="1068" y="356" width="102" height="403" fill="url(#gP2)"/>
<rect x="1173" y="356" width="20" height="403" fill="url(#gN)"/><rect x="1197" y="356" width="115" height="403" fill="url(#gP1)"/>
<rect x="883" y="363.3" width="37.5" height="36.65" fill="url(#pT1a)"/>
<rect x="920.5" y="400" width="37.5" height="36.65" fill="url(#pT1b)"/>
<rect x="968" y="444" width="24" height="22" fill="url(#pT2)"/>
<rect x="1018.5" y="487.9" width="37.5" height="36.65" fill="url(#pP3)"/>
<rect x="1075.8" y="539.3" width="31.4" height="29.3" fill="url(#pP2a)"/>
<rect x="1115.1" y="575.9" width="15.7" height="14.7" fill="url(#pP2b)"/>
<rect x="1138.6" y="597.9" width="31.4" height="29.3" fill="url(#pP2a)"/>
<rect x="1197" y="649.2" width="46" height="44" fill="url(#pP1a)"/>
<rect x="1250.7" y="700.5" width="23" height="22" fill="url(#pP1b)"/>
<rect x="1273.7" y="722.5" width="30.7" height="29.3" fill="url(#pP1c)"/>
<g stroke="#e8141e">
<line x1="876.5" x2="876.5" y1="356" y2="362.3" stroke-width="6"/>
<g stroke-width="6.5">
<line x1="886.75" x2="886.75" y1="363.3" y2="369.6"/><line x1="894.25" x2="894.25" y1="370.7" y2="377"/><line x1="901.75" x2="901.75" y1="378" y2="384.3"/>
<line x1="909.25" x2="909.25" y1="385.3" y2="391.6"/><line x1="916.75" x2="916.75" y1="392.7" y2="399"/><line x1="924.25" x2="924.25" y1="400" y2="406.3"/>
<line x1="931.75" x2="931.75" y1="407.3" y2="413.6"/><line x1="939.25" x2="939.25" y1="414.6" y2="420.9"/><line x1="946.75" x2="946.75" y1="422" y2="428.3"/>
<line x1="954.25" x2="954.25" y1="429.3" y2="435.6"/>
</g>
<g stroke-width="7">
<line x1="964" x2="964" y1="436.6" y2="442.9"/><line x1="972" x2="972" y1="444" y2="450.3"/><line x1="980" x2="980" y1="451.3" y2="457.6"/>
<line x1="988" x2="988" y1="458.6" y2="464.9"/><line x1="996" x2="996" y1="466" y2="472.3"/><line x1="1004" x2="1004" y1="473.3" y2="479.6"/>
</g>
<g stroke-width="6.5">
<line x1="1014.75" x2="1014.75" y1="480.6" y2="486.9"/><line x1="1022.25" x2="1022.25" y1="487.9" y2="494.2"/><line x1="1029.75" x2="1029.75" y1="495.3" y2="501.6"/>
<line x1="1037.25" x2="1037.25" y1="502.6" y2="508.9"/><line x1="1044.75" x2="1044.75" y1="509.9" y2="516.2"/><line x1="1052.25" x2="1052.25" y1="517.3" y2="523.6"/>
</g>
<line x1="1062.5" x2="1062.5" y1="524.6" y2="530.9" stroke-width="6"/>
<g stroke-width="6.85">
<line x1="1071.9" x2="1071.9" y1="531.9" y2="538.2"/><line x1="1079.7" x2="1079.7" y1="539.3" y2="545.6"/><line x1="1087.6" x2="1087.6" y1="546.6" y2="552.9"/>
<line x1="1095.4" x2="1095.4" y1="553.9" y2="560.2"/><line x1="1103.3" x2="1103.3" y1="561.2" y2="567.5"/><line x1="1111.1" x2="1111.1" y1="568.6" y2="574.9"/>
<line x1="1119" x2="1119" y1="575.9" y2="582.2"/><line x1="1126.8" x2="1126.8" y1="583.2" y2="589.5"/><line x1="1134.7" x2="1134.7" y1="590.6" y2="596.9"/>
<line x1="1142.5" x2="1142.5" y1="597.9" y2="604.2"/><line x1="1150.4" x2="1150.4" y1="605.2" y2="611.5"/><line x1="1158.2" x2="1158.2" y1="612.6" y2="618.9"/>
<line x1="1166.1" x2="1166.1" y1="619.9" y2="626.2"/>
</g>
<g stroke-width="5.67">
<line x1="1176.3" x2="1176.3" y1="627.2" y2="633.5"/><line x1="1183" x2="1183" y1="634.5" y2="640.8"/><line x1="1189.7" x2="1189.7" y1="641.9" y2="648.2"/>
</g>
<g stroke-width="6.67">
<line x1="1200.8" x2="1200.8" y1="649.2" y2="655.5"/><line x1="1208.5" x2="1208.5" y1="656.5" y2="662.8"/><line x1="1216.2" x2="1216.2" y1="663.9" y2="670.2"/>
<line x1="1223.8" x2="1223.8" y1="671.2" y2="677.5"/><line x1="1231.5" x2="1231.5" y1="678.5" y2="684.8"/><line x1="1239.2" x2="1239.2" y1="685.9" y2="692.2"/>
<line x1="1246.8" x2="1246.8" y1="693.2" y2="699.5"/><line x1="1254.5" x2="1254.5" y1="700.5" y2="706.8"/><line x1="1262.2" x2="1262.2" y1="707.8" y2="714.1"/>
<line x1="1269.8" x2="1269.8" y1="715.2" y2="721.5"/><line x1="1277.5" x2="1277.5" y1="722.5" y2="728.8"/><line x1="1285.2" x2="1285.2" y1="729.8" y2="736.1"/>
<line x1="1292.8" x2="1292.8" y1="737.2" y2="743.5"/><line x1="1300.5" x2="1300.5" y1="744.5" y2="750.8"/><line x1="1308.2" x2="1308.2" y1="751.8" y2="758.1"/>
</g>
</g>
</svg>
</body></html>
